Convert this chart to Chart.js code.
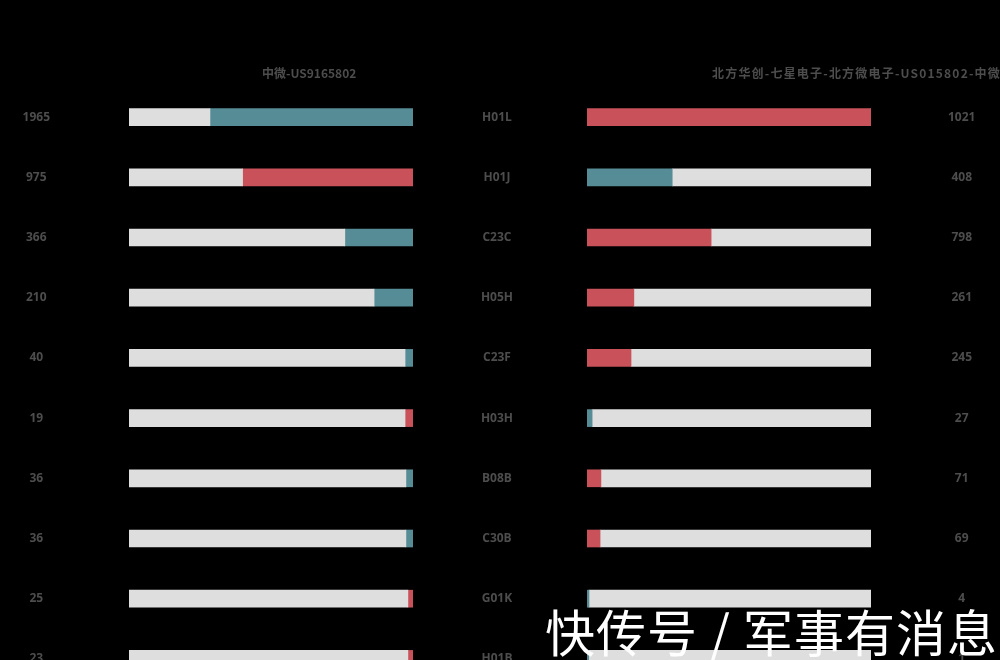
<!DOCTYPE html>
<html>
<head>
<meta charset="utf-8">
<script src="https://cdn.jsdelivr.net/npm/chart.js@4.4.1/dist/chart.umd.min.js"></script>
<style>
	html, body { margin: 0; padding: 0; background: #000; width: 1000px; height: 660px; overflow: hidden; }
	#wrap { position: relative; width: 1000px; height: 660px; }
	.box { position: absolute; top: 0; height: 700px; }
	.title { position: absolute; top: 64px; font: 700 12px "Noto Sans CJK SC", "Open Sans", sans-serif; color: #4d4d4d; white-space: nowrap; }
	#mark { position: absolute; left: 545px; top: 594px; font: 400 50px "Noto Sans CJK SC", sans-serif; color: #fff; white-space: nowrap; letter-spacing: 1px; }
</style>
</head>
<body>
<div id="wrap">
	<div class="box" style="left:0; width:450px"><canvas id="left"></canvas></div>
	<div class="box" style="left:450px; width:550px"><canvas id="right"></canvas></div>
	<div class="title" style="left:262px">中微-US9165802</div>
	<div class="title" style="left:712px; letter-spacing:1.2px">北方华创-七星电子-北方微电子-US015802-中微</div>
	<div id="mark">快传号 / 军事有消息</div>
</div>
<script>
const TEAL = "#568c95";
const RED = "#c8515a";
const GRAY = "#dedede";

// left panel
const leftLabels = ["1965", "975", "366", "210", "40", "19", "36", "36", "25", "23"];
const leftShare = [71.5, 60, 24, 13.7, 2.8, 2.8, 2.5, 2.5, 1.8, 1.8];
const leftColors = [TEAL, RED, TEAL, TEAL, TEAL, RED, TEAL, TEAL, RED, RED];

// right panel
const rightCodes = ["H01L", "H01J", "C23C", "H05H", "C23F", "H03H", "B08B", "C30B", "G01K", "H01B"];
const rightValues = ["1021", "408", "798", "261", "245", "27", "71", "69", "4", "1"];
const rightShare = [100, 30, 43.7, 16.5, 15.5, 1.8, 4.9, 4.6, 0.7, 0.6];
const rightColors = [RED, TEAL, RED, RED, RED, TEAL, RED, RED, TEAL, TEAL];

const tickFont = { family: "'Open Sans', sans-serif", size: 12, weight: "bold" };

function catAxis(position, width, padding, labels) {
	const axis = {
		type: "category",
		position: position,
		grid: { display: false, drawTicks: false },
		border: { display: false },
		ticks: {
			color: "#4d4d4d",
			font: tickFont,
			padding: padding,
			crossAlign: "center",
			autoSkip: false,
		},
		afterFit: scale => {
			// fixed axis width; the big tick padding must not eat vertical space
			scale.width = width;
			scale.paddingTop = 0;
			scale.paddingBottom = 0;
		},
	};
	if (labels) axis.labels = labels;
	return axis;
}

function valueAxis() {
	return { stacked: true, min: 0, max: 100, display: false };
}

// Left chart: coloured part sits at the right end
new Chart(document.getElementById("left"), {
	type: "bar",
	data: {
		labels: leftLabels,
		datasets: [
			{ data: leftShare.map(v => 100 - v), backgroundColor: GRAY, barThickness: 17 },
			{ data: leftShare, backgroundColor: leftColors, barThickness: 17 },
		],
	},
	options: {
		indexAxis: "y",
		responsive: true,
		maintainAspectRatio: false,
		animation: false,
		layout: { padding: { top: 87, bottom: 11, left: 0, right: 37 } },
		plugins: { legend: { display: false }, tooltip: { enabled: false } },
		scales: {
			x: valueAxis(),
			y: Object.assign(catAxis("left", 129, 79), { stacked: true }),
		},
	},
});

// Right chart: coloured part starts at the left end
new Chart(document.getElementById("right"), {
	type: "bar",
	data: {
		labels: rightCodes,
		datasets: [
			{ data: rightShare, backgroundColor: rightColors, barThickness: 17 },
			{ data: rightShare.map(v => 100 - v), backgroundColor: GRAY, barThickness: 17 },
		],
	},
	options: {
		indexAxis: "y",
		responsive: true,
		maintainAspectRatio: false,
		animation: false,
		layout: { padding: { top: 87, bottom: 11, left: 0, right: 0 } },
		plugins: { legend: { display: false }, tooltip: { enabled: false } },
		scales: {
			x: valueAxis(),
			y: Object.assign(catAxis("left", 137, 74), { stacked: true }),
			y2: catAxis("right", 129, 77, rightValues),
		},
	},
});
</script>
</body>
</html>
